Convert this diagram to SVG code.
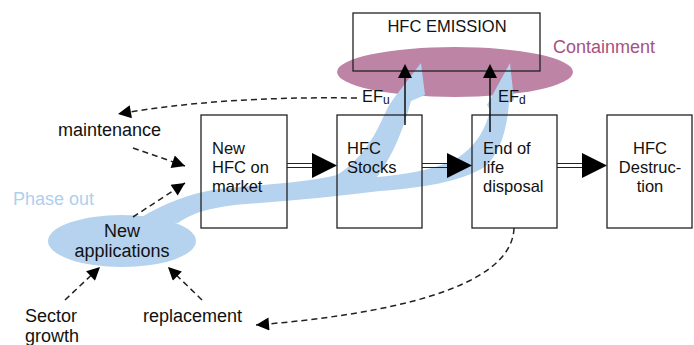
<svg xmlns="http://www.w3.org/2000/svg" width="694" height="345" viewBox="0 0 694 345">
  <style>
    text { font-family: "Liberation Sans", Arial, sans-serif; fill: #111; }
    .box { font-size: 16.5px; }
    .lbl { font-size: 18px; }
    .frame { fill: none; stroke: #222; stroke-width: 1.3; }
    .dash { fill: none; stroke: #222; stroke-width: 1.5; stroke-dasharray: 6 4; }
    .dbl { fill: none; stroke: #222; stroke-width: 1.2; }
    .head { fill: #000; }
    .up { stroke: #111; stroke-width: 1.5; fill: none; }
  </style>
  <defs>
    <marker id="tri" viewBox="0 0 10 10" refX="10" refY="5" markerUnits="userSpaceOnUse" markerWidth="16" markerHeight="13" orient="auto">
      <path d="M0,0 L10,5 L0,10 z" fill="#000"/>
    </marker>
  </defs>

  <rect width="694" height="345" fill="#fff"/>

  <!-- emission box background -->
  <rect x="353" y="13" width="187" height="58" fill="#fff"/>

  <!-- containment area -->
  <g id="containment">
    <ellipse cx="455" cy="72" rx="118" ry="25" fill="#bd84a5"/>
    <text class="lbl" x="553" y="53" style="fill:#a5527f">Containment</text>
  </g>

  <!-- phase-out swoosh -->
  <g id="phase-out">
    <ellipse cx="122" cy="241" rx="74" ry="26" fill="#b5d2ee"/>
    <path fill="#b5d2ee" d="M140,218 C165,203 190,193 220,189 C265,184 305,183 337,175 C352,166 368,148 378,128 C382,120 385,113 388,107 L394,98 L421,63 L425,95 L411,101 C404,128 393,155 377,177 C400,175 432,171 456,159 C474,148 486,130 490,110 L487,105 L510,63 L514,100 L509,103 C507,130 500,152 486,166 C462,182 420,188 380,191 C340,196 300,200 260,203 C222,205 196,210 178,223 C165,222 150,220 140,218 Z"/>
    <text class="lbl" x="13" y="205" style="fill:#b0cfee">Phase out</text>
  </g>

  <!-- emission box -->
  <g id="emission">
    <rect class="frame" x="353" y="13" width="187" height="58"/>
    <text class="box" x="447" y="32" text-anchor="middle">HFC EMISSION</text>
  </g>

  <g id="new-hfc">
    <rect class="frame" x="201" y="115" width="86" height="113"/>
    <text class="box" x="212" y="154">New</text>
    <text class="box" x="212" y="173">HFC on</text>
    <text class="box" x="212" y="192">market</text>
  </g>

  <g id="stocks">
    <rect class="frame" x="337" y="115" width="85" height="113"/>
    <text class="box" x="347" y="154">HFC</text>
    <text class="box" x="347" y="173">Stocks</text>
  </g>

  <g id="end-of-life">
    <rect class="frame" x="472" y="115" width="85" height="113"/>
    <text class="box" x="483" y="154">End of</text>
    <text class="box" x="483" y="173">life</text>
    <text class="box" x="483" y="192">disposal</text>
  </g>

  <g id="destruction">
    <rect class="frame" x="607" y="115" width="85" height="113"/>
    <text class="box" x="650" y="154" text-anchor="middle">HFC</text>
    <text class="box" x="650" y="173" text-anchor="middle">Destruc-</text>
    <text class="box" x="650" y="192" text-anchor="middle">tion</text>
  </g>

  <g id="new-applications">
    <text class="lbl" x="122" y="237" text-anchor="middle">New</text>
    <text class="lbl" x="122" y="257" text-anchor="middle">applications</text>
  </g>

  <g id="maintenance"><text class="lbl" x="58" y="136">maintenance</text></g>
  <g id="sector-growth">
    <text class="lbl" x="25" y="322">Sector</text>
    <text class="lbl" x="25" y="342">growth</text>
  </g>
  <g id="replacement"><text class="lbl" x="143" y="322">replacement</text></g>

  <g id="ef-u"><text class="box" x="362" y="102">EF<tspan font-size="12" dy="2">u</tspan></text></g>
  <g id="ef-d"><text class="box" x="498" y="102">EF<tspan font-size="12" dy="2">d</tspan></text></g>

  <!-- connectors -->
  <g id="connectors">
    <!-- mass flow between boxes -->
    <path class="dbl" d="M287,163.5 H313 M287,167.5 H313"/>
    <path class="head" d="M312,153 L337,165.5 L312,178 z"/>
    <path class="dbl" d="M422,163.5 H448 M422,167.5 H448"/>
    <path class="head" d="M447,153 L472,165.5 L447,178 z"/>
    <path class="dbl" d="M557,163.5 H583 M557,167.5 H583"/>
    <path class="head" d="M582,153 L607,165.5 L582,178 z"/>

    <!-- emission factors -->
    <path class="up" d="M405,125 V77"/>
    <path class="head" d="M398,78 L405,64 L412,78 z"/>
    <path class="up" d="M490,132 V77"/>
    <path class="head" d="M483,78 L490,64 L497,78 z"/>

    <!-- feedback loops -->
    <path class="dash" d="M357,98 Q220,96 118,114" marker-end="url(#tri)"/>
    <path class="dash" d="M133,148 L185,166" marker-end="url(#tri)"/>
    <path class="dash" d="M133,217 L185,183" marker-end="url(#tri)"/>
    <path class="dash" d="M65,300 L100,267" marker-end="url(#tri)"/>
    <path class="dash" d="M202,300 L168,267" marker-end="url(#tri)"/>
    <path class="dash" d="M514,228 C512,290 380,315 256,325" marker-end="url(#tri)"/>
  </g>
</svg>
